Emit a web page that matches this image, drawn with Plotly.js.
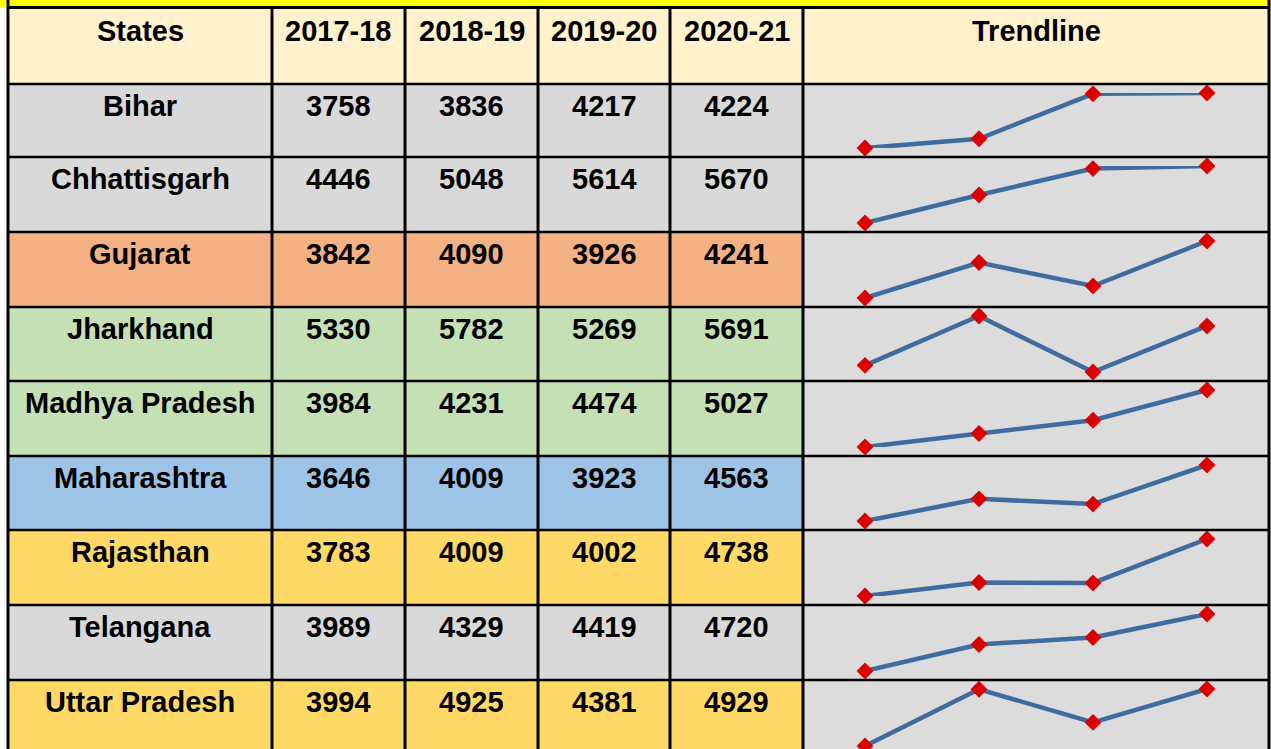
<!DOCTYPE html>
<html>
<head>
<meta charset="utf-8">
<script src="https://cdn.plot.ly/plotly-3.0.1.min.js"></script>
<style>html,body{margin:0;padding:0;background:#fff;}#chart{width:1271px;height:749px;}</style>
</head>
<body>
<div id="chart"></div>
<script>
// ---- data ----
const states = ['Bihar','Chhattisgarh','Gujarat','Jharkhand','Madhya Pradesh','Maharashtra','Rajasthan','Telangana','Uttar Pradesh'];
const years = ['2017-18','2018-19','2019-20','2020-21'];
const v2017_18 = [3758,4446,3842,5330,3984,3646,3783,3989,3994];
const v2018_19 = [3836,5048,4090,5782,4231,4009,4009,4329,4925];
const v2019_20 = [4217,5614,3926,5269,4474,3923,4002,4419,4381];
const v2020_21 = [4224,5670,4241,5691,5027,4563,4738,4720,4929];
const headerStates = 'States';
const headerTrend = 'Trendline';

// ---- layout / style ----
const W = 1271, H = 749;
const colEdges = [8, 272, 405, 538, 670, 803, 1269];
const rowEdges = [84, 157, 232, 307, 381, 456, 530, 605, 680, 755];
const headerTop = 8;
const rowFill = ['#D9D9D9','#D9D9D9','#F4B183','#C5E0B4','#C5E0B4','#9DC3E6','#FFD966','#D9D9D9','#FFD966'];
const trendFill = '#DCDCDC';
const headerFill = '#FFF2CC';
const fontSpec = {family: 'Liberation Sans, Arial, sans-serif', size: 29, color: '#000', weight: 700};

const px = x => x / W;
const py = y => 1 - y / H;

const shapes = [];
const annotations = [];
function rect(x0, y0, x1, y1, fill) {
  shapes.push({type:'rect', xref:'paper', yref:'paper', x0:px(x0), x1:px(x1), y0:py(y1), y1:py(y0),
    fillcolor: fill, line:{width:0}, layer:'below'});
}
function line(x0, y0, x1, y1, w, c) {
  shapes.push({type:'line', xref:'paper', yref:'paper', x0:px(x0), x1:px(x1), y0:py(y0), y1:py(y1),
    line:{width:w, color:c||'#000'}, layer:'above'});
}
function label(text, col, yc) {
  annotations.push({xref:'paper', yref:'paper', x:px((colEdges[col]+colEdges[col+1])/2), y:py(yc),
    text:text, showarrow:false, xanchor:'center', yanchor:'middle', font:fontSpec});
}

// top yellow band
rect(0, 0, W, 7, '#FFFF00');
// header
rect(colEdges[0], headerTop, colEdges[6], rowEdges[0], headerFill);
const headerTexts = [headerStates].concat(years).concat([headerTrend]);
headerTexts.forEach((t, i) => label(t, i, 31));

const cols = [v2017_18, v2018_19, v2019_20, v2020_21];
states.forEach((s, r) => {
  const top = rowEdges[r], bot = rowEdges[r+1];
  rect(colEdges[0], top, colEdges[5], bot, rowFill[r]);
  rect(colEdges[5], top, colEdges[6], bot, trendFill);
  label(s, 0, top + 22);
  cols.forEach((arr, c) => label(String(arr[r]), c + 1, top + 22));
});

// grid lines
line(colEdges[0], 7.5, colEdges[6], 7.5, 3);
rowEdges.forEach(y => line(colEdges[0], y, colEdges[6], y, 2.5));
colEdges.forEach((x, i) => {
  const outer = (i === 0 || i === colEdges.length - 1);
  line(x, outer ? 0 : 7.5, x, H, 3);
});

// ---- sparklines ----
const traces = [];
const layout = {
  width: W, height: H, margin:{l:0,r:0,t:0,b:0}, paper_bgcolor:'#fff', plot_bgcolor:'rgba(0,0,0,0)',
  showlegend:false, shapes: shapes, annotations: annotations,
  xaxis: {domain:[px(colEdges[5]), px(colEdges[6])], range:[-0.544, 3.544], visible:false, fixedrange:true}
};
states.forEach((s, r) => {
  const ys = cols.map(a => a[r]);
  const yname = r === 0 ? 'y' : 'y' + (r + 1);
  const key = r === 0 ? 'yaxis' : 'yaxis' + (r + 1);
  const top = rowEdges[r], bot = rowEdges[r+1];
  layout[key] = {domain:[py(bot - 9), py(top + 9)], range:[Math.min(...ys), Math.max(...ys)],
    visible:false, fixedrange:true, anchor:'x'};
  traces.push({type:'scatter', mode:'lines+markers', x:[0,1,2,3], y:ys, xaxis:'x', yaxis:yname,
    line:{color:'#3F6C9E', width:4.5}, marker:{symbol:'diamond', size:13, color:'#DC0000'},
    cliponaxis:false, hoverinfo:'skip', name:s});
});

Plotly.newPlot('chart', traces, layout, {staticPlot:true, displayModeBar:false});
</script>
</body>
</html>
